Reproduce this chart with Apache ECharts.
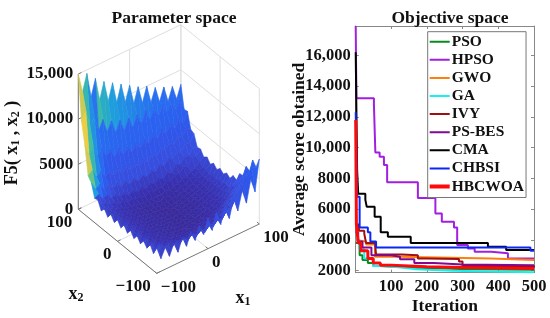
<!DOCTYPE html>
<html><head><meta charset="utf-8">
<script src="https://cdn.jsdelivr.net/npm/echarts@6/dist/echarts.min.js"></script>
<style>html,body{margin:0;padding:0;background:#fff}#c{width:550px;height:318px}</style>
</head><body><div id="c"></div>
<script>
// ---- Objective space data: [iteration, score] step points
const PSO=[[1,3800],[12,3000],[20,2700],[35,2500],[50,2300],[70,2200],[150,2150],[250,2100],[320,2060],[500,2040]];
const HPSO=[[1,17900],[3,13200],[52,12800],[56,9685],[68,9400],[80,8860],[89,7740],[175,6720],[224,5720],[242,5180],[276,4810],[285,3670],[315,3450],[334,3230],[380,3130],[427,2800],[500,2800]];
const GWO=[[1,4000],[5,3900],[30,3700],[55,2900],[120,2800],[380,2695],[500,2695]];
const GA=[[1,4000],[10,3400],[25,2800],[50,2300],[70,2200],[130,2100],[170,2000],[270,1900],[500,1880]];
const IVY=[[1,5000],[10,4600],[25,4400],[30,3800],[55,3700],[58,3050],[130,3000],[175,2800],[200,2760],[290,2600],[300,2300],[500,2200]];
const PSBES=[[1,4500],[8,3900],[20,3500],[45,3000],[100,2900],[125,2750],[165,2500],[220,2400],[300,2350],[500,2320]];
const CMA=[[1,16200],[5,8500],[8,7000],[28,6600],[32,6150],[54,5500],[71,4500],[91,4200],[155,3800],[371,3550],[422,3350],[500,3350]];
const CHBSI=[[1,12300],[5,6800],[12,4800],[35,4500],[42,3900],[58,3500],[490,3300],[500,3300]];
const HBCWOA=[[1,11800],[3,5000],[8,3800],[15,3300],[35,2800],[50,2500],[70,2350],[100,2300],[150,2250],[200,2200],[300,2150],[500,2120]];
const xTicks=[100,200,300,400,500];
const yTicks=[2000,4000,6000,8000,10000,12000,14000,16000];
const yTickLabels=['2000','4000','6000','8000','10,000','12,000','14,000','16,000'];

// ---- Parameter space: surface heights (hundreds), rows x2=100..-100, columns x1=-100..100
const surface=[
[150,128,146,118,136,110,128,104,122,98,116,94,110,88,104,84,100,80,94,76,90,72,86,70,84],
[100,110,90,99,81,91,75,85,70,81,67,79,66,78,66,78,65,77,65,76,64,75,62,72,59],
[77,64,70,58,64,53,58,48,55,46,52,44,52,44,52,44,53,45,54,46,55,47,57,48,60],
[46,50,40,44,36,40,33,38,31,36,29,35,29,35,29,36,31,37,33,40,35,43,39,47,43],
[41,32,35,27,31,24,27,21,25,19,23,18,22,18,23,19,25,21,27,24,31,27,35,32,41],
[27,29,22,24,18,20,15,17,12,15,11,14,10,14,11,15,12,17,15,21,19,25,24,31,29],
[28,20,22,16,17,12,14,9,12,8,10,7,10,7,10,8,12,10,15,14,19,18,25,24,30],
[19,21,15,16,11,12,8,9,6,7,4,6,4,6,4,7,5,8,8,11,11,15,16,21,24],
[24,16,18,12,13,9,9,6,7,4,5,3,5,3,5,4,6,5,9,8,12,12,17,18,27],
[18,20,14,15,10,11,7,8,5,5,3,4,2,4,2,5,3,6,6,9,9,13,14,19,22],
[24,15,17,11,12,8,8,5,6,3,4,2,3,1,3,2,4,4,7,6,10,10,15,16,26],
[18,20,13,14,9,10,6,7,4,5,2,3,1,3,2,4,3,5,6,8,9,12,14,19,22],
[24,15,17,11,12,8,8,5,6,3,4,2,3,1,3,2,4,4,7,6,10,10,15,16,26],
[18,20,13,14,9,10,6,7,4,5,2,3,1,3,2,4,3,5,6,8,10,12,15,19,23],
[24,15,17,11,12,8,8,5,6,3,4,2,3,1,3,2,4,4,7,6,11,10,16,17,27],
[18,20,13,14,9,10,6,7,4,5,2,3,1,3,2,4,3,6,6,9,10,13,15,20,24],
[24,15,17,11,12,8,8,5,6,4,4,2,3,2,3,3,5,5,8,7,12,12,18,19,30],
[18,20,13,14,9,10,7,7,5,5,3,4,2,4,3,5,4,7,7,10,12,15,19,24,28],
[24,15,17,11,12,8,9,6,7,4,5,3,5,3,5,4,7,6,10,10,15,16,22,25,38],
[18,21,14,15,10,11,8,9,6,7,5,6,4,6,5,8,8,11,11,16,18,23,27,35,39],
[24,16,18,13,14,10,11,8,9,7,8,6,8,6,9,8,12,12,17,18,24,26,33,38,52],
[19,22,15,17,12,14,11,12,9,11,9,11,8,11,10,13,13,17,18,23,27,32,38,46,50],
[26,18,22,16,19,14,17,13,16,12,16,12,16,12,16,14,18,17,24,24,32,33,43,46,65],
[19,25,17,21,15,19,15,20,15,20,15,21,15,21,17,23,20,27,27,35,37,46,52,62,60],
[28,14,24,12,24,12,26,14,28,16,30,18,34,18,36,20,38,22,42,26,46,30,54,38,72]
];
// colour levels seen on the steep wall at the low-x1, high-x2 corner (rows then columns of quads)
const wallColorLevel=[
[146,122,104,92],
[150,126,106,92],
[146,122,102,82],
[132,112,86,62],
[112,86,60,40]
];
const zTicks=[0,5000,10000,15000];
const zTickLabels=['0','5000','10,000','15,000'];
const x1Ticks=[-100,0,100];
const x1TickLabels=['\u2212100','0','100'];
const x2Ticks=[100,0,-100];
const x2TickLabels=['100','0','\u2212100'];

// ---- Presentation
const FONT='"Liberation Serif","Times New Roman",serif';
const colorStops=[[0,[58,42,152]],[12,[56,48,176]],[30,[56,78,222]],[60,[45,90,238]],[90,[40,112,240]],[112,[30,160,220]],[128,[70,196,150]],[150,[235,205,70]]];
function colorOf(z){
  for(let k=1;k<colorStops.length;k++){
    if(z<=colorStops[k][0]){
      const a=colorStops[k-1],b=colorStops[k],t=(z-a[0])/(b[0]-a[0]);
      return 'rgb('+a[1].map((v,n)=>Math.round(v+(b[1][n]-v)*t)).join(',')+')';
    }
  }
  return 'rgb(235,205,70)';
}
function proj(x1,x2,z){
  const a=(x1+100)/200,b=(x2+100)/200;
  return [156.7+a*102.6-b*78.4, 273.3-a*49.3-b*64-z/15000*135.3];
}
const N=surface.length;
const quads=[];
for(let r=0;r<N-1;r++){for(let i=N-2;i>=0;i--){quads.push([r,i]);}}
const gx=i=>-100+i*200/(N-1), gy=r=>100-r*200/(N-1);

const boxLines=[];
zTicks.forEach(z=>{ if(z>0){boxLines.push([-100,100,z,100,100,z,0],[100,100,z,100,-100,z,0]);} });
[-100,0,100].forEach(v=>{boxLines.push([v,100,0,v,100,15000,0],[100,v,0,100,v,15000,0]);});
[-100,0].forEach(v=>{boxLines.push([v,-100,0,v,100,0,0]);});
[0,100].forEach(v=>{boxLines.push([-100,v,0,100,v,0,0]);});
boxLines.push([-100,100,0,-100,100,15000,1],[-100,100,0,-100,-100,0,1],[-100,-100,0,100,-100,0,1]);
x1Ticks.forEach(v=>boxLines.push([v,-100,0,v,-94,0,1]));
x2Ticks.forEach(v=>boxLines.push([-100,v,0,-94,v,0,1]));
zTicks.forEach(z=>boxLines.push([-100,100,z,-94,100,z,1]));

const tickFont='bold 17px '+FONT;
const textItems=[];
zTicks.forEach((z,k)=>{const p=proj(-100,100,z);textItems.push({x:p[0]-5,y:p[1],t:zTickLabels[k],a:'right'});});
x2Ticks.forEach((v,k)=>{const p=proj(-100,v,0);textItems.push({x:p[0]-6,y:p[1]+13,t:x2TickLabels[k],a:'right'});});
x1Ticks.forEach((v,k)=>{const p=proj(v,-100,0);textItems.push({x:p[0]+4,y:p[1]+14,t:x1TickLabels[k],a:'left'});});

const names=['PSO','HPSO','GWO','GA','IVY','PS-BES','CMA','CHBSI','HBCWOA'];
const values=[PSO,HPSO,GWO,GA,IVY,PSBES,CMA,CHBSI,HBCWOA];
const colors=['#0a8a1e','#a01fe0','#ff7f0e','#14f0f0','#a00f14','#800a90','#000000','#0a28f5','#ff0a0a'];
const widths=[2,2,2,2,2,2,2,2,3];

const thinIcon='path://M0 0L0 0ZM0 5H20V7H0ZM20 12L20 12Z';
const thickIcon='path://M0 0L0 0ZM0 4H20V8H0ZM20 12L20 12Z';
const legendData=names.map((n,k)=>({name:n,icon:widths[k]>2?thickIcon:thinIcon}));

const lineSeries=names.map((n,k)=>({name:n,type:'line',xAxisIndex:1,yAxisIndex:1,data:values[k],step:'end',
  showSymbol:false,symbol:'none',lineStyle:{color:colors[k],width:widths[k]},itemStyle:{color:colors[k]},animation:false,z:3+k*0.01,silent:true}));

const nameStyle={fontFamily:FONT,fontWeight:'bold',fontSize:17.5,color:'#111'};
const chart=echarts.init(document.getElementById('c'),null,{renderer:'canvas'});
chart.setOption({
  animation:false,
  backgroundColor:'#fff',
  title:[
    {text:'Parameter space',left:169,top:4,textAlign:'center',textStyle:nameStyle},
    {text:'Objective space',left:445,top:4,textAlign:'center',textStyle:nameStyle}
  ],
  legend:{data:legendData,orient:'vertical',left:427.7,top:31.7,width:101,itemWidth:20,itemHeight:12,itemGap:2.1,
    padding:[2,2,3,2],backgroundColor:'#fff',borderColor:'#777',borderWidth:1,
    textStyle:{fontFamily:FONT,fontWeight:'bold',fontSize:15.5,color:'#111',padding:[0,0,0,-3]},selectedMode:false,z:10},
  grid:[
    {left:0,top:0,width:550,height:318,show:false,outerBoundsMode:'none'},
    {left:355.7,top:26,width:178.3,height:246.7,show:false,outerBoundsMode:'none'}
  ],
  xAxis:[
    {gridIndex:0,type:'value',min:0,max:550,show:false},
    {gridIndex:1,type:'value',min:1,max:500,position:'bottom',
      axisLine:{show:true,onZero:false,lineStyle:{color:'#888'}},splitLine:{show:false},
      axisTick:{show:true,inside:true,length:3,customValues:xTicks,lineStyle:{color:'#888'}},
      axisLabel:{show:true,customValues:xTicks,fontFamily:FONT,fontWeight:'bold',fontSize:16.5,color:'#111',margin:6},
      name:'Iteration',nameLocation:'middle',nameGap:25,nameMoveOverlap:false,nameTextStyle:nameStyle},
    {gridIndex:1,type:'value',min:1,max:500,position:'top',
      axisLine:{show:true,onZero:false,lineStyle:{color:'#888'}},splitLine:{show:false},
      axisTick:{show:true,inside:true,length:3,customValues:xTicks,lineStyle:{color:'#888'}},axisLabel:{show:false}}
  ],
  yAxis:[
    {gridIndex:0,type:'value',min:0,max:318,inverse:true,show:false},
    {gridIndex:1,type:'value',min:1870,max:17900,position:'left',
      axisLine:{show:true,onZero:false,lineStyle:{color:'#888'}},splitLine:{show:false},
      axisTick:{show:true,inside:true,length:3,customValues:yTicks,lineStyle:{color:'#888'}},
      axisLabel:{show:true,customValues:yTicks,formatter:v=>yTickLabels[yTicks.indexOf(v)],fontFamily:FONT,fontWeight:'bold',fontSize:16.5,color:'#111',margin:5},
      name:'Average score obtained',nameLocation:'middle',nameRotate:90,nameGap:47,nameMoveOverlap:false,nameTextStyle:nameStyle},
    {gridIndex:1,type:'value',min:1870,max:17900,position:'right',
      axisLine:{show:true,onZero:false,lineStyle:{color:'#888'}},splitLine:{show:false},
      axisTick:{show:true,inside:true,length:3,customValues:yTicks,lineStyle:{color:'#888'}},axisLabel:{show:false}}
  ],
  series:[
    {type:'custom',xAxisIndex:0,yAxisIndex:0,silent:true,animation:false,clip:false,z:1,data:boxLines,
      renderItem:(p,api)=>{const d=boxLines[p.dataIndex];
        const a=api.coord(proj(d[0],d[1],d[2])),b=api.coord(proj(d[3],d[4],d[5]));
        return {type:'line',shape:{x1:a[0],y1:a[1],x2:b[0],y2:b[1]},style:{stroke:d[6]?'#777':'#dedede',lineWidth:1}};}},
    {type:'custom',xAxisIndex:0,yAxisIndex:0,silent:true,animation:false,clip:false,z:2,data:quads,
      renderItem:(p,api)=>{const q=quads[p.dataIndex],r=q[0],i=q[1];
        const c=[[r,i],[r,i+1],[r+1,i+1],[r+1,i]];
        const hs=c.map(o=>surface[o[0]][o[1]]);
        const pts=c.map((o,n)=>api.coord(proj(gx(o[1]),gy(o[0]),hs[n]*100)));
        const avg=hs.reduce((s,v)=>s+v,0)/4, top=Math.max.apply(null,hs);
        let level=avg+(top-avg)*0.6;
        if(wallColorLevel[r]&&wallColorLevel[r][i]!==undefined){level=wallColorLevel[r][i];}
        const col=colorOf(level);
        return {type:'polygon',shape:{points:pts},style:{fill:col,stroke:col,lineWidth:0.6}};}},
    {type:'custom',xAxisIndex:0,yAxisIndex:0,silent:true,animation:false,clip:false,z:3,data:textItems,
      renderItem:(p,api)=>{const t=textItems[p.dataIndex],c=api.coord([t.x,t.y]);
        return {type:'text',x:c[0],y:c[1],style:{text:t.t,font:tickFont,fill:'#111',textAlign:t.a,textVerticalAlign:'middle'}};}}
  ].concat(lineSeries),
  graphic:[
    {type:'text',x:12,y:143,rotation:Math.PI/2,originX:0,originY:0,style:{
      rich:{n:{font:'bold 18px '+FONT,fill:'#111'},s:{font:'bold 12px '+FONT,fill:'#111',padding:[8,0,0,0]}},
      text:'{n|F5( x}{s|1}{n| , x}{s|2}{n| )}',textAlign:'center',textVerticalAlign:'middle'}},
    {type:'text',x:76,y:294,style:{rich:{n:{font:'bold 18px '+FONT,fill:'#111'},s:{font:'bold 12px '+FONT,fill:'#111',padding:[8,0,0,0]}},text:'{n|x}{s|2}',textAlign:'center',textVerticalAlign:'middle'}},
    {type:'text',x:243,y:298,style:{rich:{n:{font:'bold 18px '+FONT,fill:'#111'},s:{font:'bold 12px '+FONT,fill:'#111',padding:[8,0,0,0]}},text:'{n|x}{s|1}',textAlign:'center',textVerticalAlign:'middle'}}
  ]
});
</script></body></html>
